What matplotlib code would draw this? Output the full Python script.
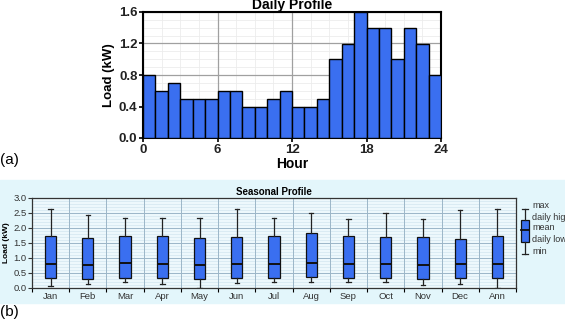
import matplotlib
matplotlib.use("Agg")
import matplotlib.pyplot as plt
from matplotlib.patches import Rectangle
from matplotlib.ticker import MultipleLocator
import numpy as np

plt.rcParams['font.family'] = ['Liberation Sans', 'DejaVu Sans']

# ---- data ----
hours = list(range(24))
daily_load = [0.8, 0.6, 0.7, 0.5, 0.5, 0.5, 0.6, 0.6, 0.4, 0.4, 0.5, 0.6,
              0.4, 0.4, 0.5, 1.0, 1.2, 1.6, 1.4, 1.4, 1.0, 1.4, 1.2, 0.8]

months = ['Jan', 'Feb', 'Mar', 'Apr', 'May', 'Jun', 'Jul', 'Aug', 'Sep',
          'Oct', 'Nov', 'Dec', 'Ann']
s_max = [2.63, 2.41, 2.34, 2.34, 2.32, 2.63, 2.34, 2.50, 2.28, 2.48, 2.30, 2.58, 2.63]
s_high = [1.73, 1.66, 1.73, 1.71, 1.66, 1.68, 1.71, 1.83, 1.73, 1.68, 1.68, 1.61, 1.71]
s_mean = [0.78, 0.76, 0.81, 0.78, 0.76, 0.78, 0.78, 0.83, 0.78, 0.78, 0.76, 0.78, 0.78]
s_low = [0.33, 0.30, 0.33, 0.33, 0.30, 0.33, 0.33, 0.37, 0.33, 0.33, 0.30, 0.33, 0.33]
s_min = [0.07, 0.13, 0.18, 0.13, 0.00, 0.16, 0.18, 0.18, 0.18, 0.18, 0.10, 0.14, 0.00]

legend_labels = ['max', 'daily high', 'mean', 'daily low', 'min']

BLUE = '#3a6ff0'
W, H = 565, 319
fig = plt.figure(figsize=(W / 100, H / 100), dpi=100)

def fx(px):
    return px / W

def fy(py):
    return 1 - py / H

# cyan background for panel (b)
bg = Rectangle((0, fy(303)), 1, fy(180) - fy(303),
               transform=fig.transFigure, color='#e3f6fb', zorder=-10)
fig.add_artist(bg)

# ---- (a) daily profile ----
ax1 = fig.add_axes([fx(143), fy(138), fx(441) - fx(143), fy(12) - fy(138)])
ax1.bar(hours, daily_load, width=1.0, align='edge', color=BLUE,
        edgecolor='black', linewidth=1.0, zorder=3)
ax1.set_xlim(0, 24)
ax1.set_ylim(0, 1.6)
ax1.xaxis.set_major_locator(MultipleLocator(6))
ax1.yaxis.set_major_locator(MultipleLocator(0.4))
ax1.yaxis.set_major_formatter(plt.FuncFormatter(lambda v, p: f'{v:.1f}'))
# light minor grid below the major grid
ax1.vlines(np.arange(0, 24.01, 1.5), 0, 1.6, color='#ececec', linewidth=0.6, zorder=0.5)
ax1.hlines(np.arange(0, 1.601, 0.1), 0, 24, color='#ececec', linewidth=0.6, zorder=0.5)
ax1.grid(which='major', color='#a0a0a0', linewidth=0.9)
ax1.tick_params(which='major', labelsize=9.5, length=3, width=1.2, pad=1)
for lab in ax1.get_xticklabels() + ax1.get_yticklabels():
    lab.set_fontweight('bold')
    lab.set_color('#222222')
for sp in ax1.spines.values():
    sp.set_linewidth(1.5)
ax1.set_xlabel('Hour', fontsize=10, fontweight='bold', labelpad=1)
ax1.set_ylabel('Load (kW)', fontsize=9.5, fontweight='bold', labelpad=3)
ax1.set_title('Daily Profile', fontsize=10, fontweight='bold', pad=2)
fig.text(fx(0), fy(160), '(a)', fontsize=11, va='center', ha='left')

# ---- (b) seasonal profile ----
ax2 = fig.add_axes([fx(32), fy(287.7), fx(516) - fx(32), fy(197.7) - fy(287.7)])
ax2.set_facecolor('#edf8fc')
n = len(months)
pos = np.arange(n)
stats = []
for i in range(n):
    stats.append(dict(med=s_mean[i], q1=s_low[i], q3=s_high[i],
                      whislo=s_min[i], whishi=s_max[i], fliers=[]))
ax2.hlines(np.arange(0, 3.001, 0.1), -0.5, n - 0.5, color='#d2e6f0', linewidth=0.5, zorder=0.5)
ax2.bxp(stats, positions=pos, widths=0.3, patch_artist=True,
        boxprops=dict(facecolor=BLUE, edgecolor='#111111', linewidth=0.9),
        medianprops=dict(color='#111111', linewidth=1.4),
        whiskerprops=dict(color='#222222', linewidth=0.9),
        capprops=dict(color='#222222', linewidth=0.9), capwidths=0.12,
        zorder=3)
ax2.set_xlim(-0.5, n - 0.5)
ax2.set_ylim(0, 3.0)
ax2.set_xticks(pos)
ax2.set_xticklabels(months)
ax2.set_xticks(np.arange(-0.5, n, 1.0), minor=True)
ax2.yaxis.set_major_locator(MultipleLocator(0.5))
ax2.yaxis.set_major_formatter(plt.FuncFormatter(lambda v, p: f'{v:.1f}'))
ax2.grid(which='major', axis='y', color='#9cb6c8', linewidth=0.7)
ax2.grid(which='minor', axis='x', color='#9cb6c8', linewidth=0.7)
ax2.tick_params(axis='x', which='major', length=0, labelsize=6.8, pad=3, colors='#333333')
ax2.tick_params(axis='x', which='minor', length=3, width=0.8)
ax2.tick_params(axis='y', which='major', length=3, width=0.8, labelsize=6.8, pad=1, colors='#333333')
for sp in ax2.spines.values():
    sp.set_linewidth(0.9)
    sp.set_color('#333333')
ax2.set_ylabel('Load (kW)', fontsize=6, fontweight='bold', labelpad=2)
ax2.set_title('Seasonal Profile', fontsize=7, fontweight='bold', pad=2)
fig.text(fx(0), fy(312), '(b)', fontsize=11, va='center', ha='left')

# legend symbol
lx = fx(525)
bw = fx(8)
line_kw = dict(transform=fig.transFigure, color='#222222', linewidth=0.9)
fig.add_artist(plt.Line2D([lx, lx], [fy(209), fy(220)], **line_kw))
fig.add_artist(plt.Line2D([lx, lx], [fy(242), fy(254)], **line_kw))
fig.add_artist(plt.Line2D([lx - fx(3), lx + fx(3)], [fy(209), fy(209)], **line_kw))
fig.add_artist(plt.Line2D([lx - fx(3), lx + fx(3)], [fy(254), fy(254)], **line_kw))
fig.add_artist(Rectangle((lx - bw / 2, fy(242)), bw, fy(220) - fy(242),
                         transform=fig.transFigure, facecolor=BLUE,
                         edgecolor='#111111', linewidth=0.9))
fig.add_artist(plt.Line2D([lx - bw / 2, lx + bw / 2], [fy(230), fy(230)],
                          transform=fig.transFigure, color='#111111', linewidth=1.3))
for lab, py in zip(legend_labels, [206, 218, 227, 239, 251]):
    fig.text(fx(532), fy(py), lab, fontsize=6.5, va='center', ha='left', color='#333333')

fig.savefig('out.png', dpi=100)
